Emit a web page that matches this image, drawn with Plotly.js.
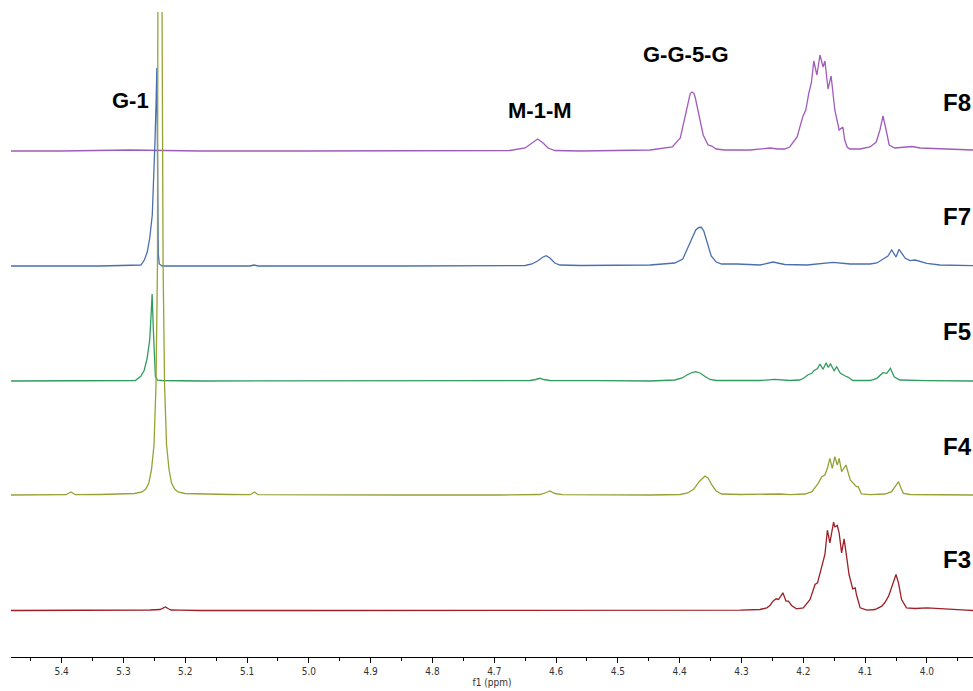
<!DOCTYPE html>
<html>
<head>
<meta charset="utf-8">
<script src="https://cdn.plot.ly/plotly-3.0.1.min.js"></script>
<style>html,body{margin:0;padding:0;background:#fff}#chart{width:973px;height:691px}</style>
</head>
<body>
<div id="chart"></div>
<script>
// ---- data: [ppm, intensity above own baseline] ----
const F8 = [[5.482,0],[5.403,0],[5.289,1],[5.176,0],[5.014,0],[4.853,0],[4.723,0],[4.675,0.5],[4.650,3],[4.639,8],[4.630,12],[4.621,8],[4.613,3],[4.602,0.5],[4.561,0],[4.448,1],[4.412,4],[4.399,13],[4.391,36],[4.385,54],[4.383,57.5],[4.380,59],[4.377,57.5],[4.375,54],[4.369,36],[4.362,16],[4.354,6],[4.348,5],[4.341,2],[4.327,1],[4.286,1],[4.262,3],[4.254,3],[4.241,2],[4.230,2],[4.222,4],[4.210,14],[4.201,34],[4.196,41],[4.191,58],[4.187,68],[4.183,90],[4.178,76],[4.173,96],[4.168,84],[4.165,90],[4.160,62],[4.155,75],[4.149,41],[4.142,21],[4.139,23],[4.136,24],[4.133,11],[4.129,4],[4.125,2],[4.108,2],[4.092,4],[4.082,9],[4.076,21],[4.071,35],[4.066,21],[4.061,6],[4.052,3],[4.035,4],[4.024,4.5],[4.011,3],[3.979,2],[3.925,1]];

const F7 = [[5.482,0],[5.338,0],[5.2719,1],[5.2662,6],[5.2615,14],[5.2575,28],[5.2534,51],[5.2507,87],[5.2489,127],[5.2471,167],[5.2460,198],[5.2454,147],[5.2449,68],[5.2437,12],[5.2420,2],[5.2373,0],[5.225,0],[5.095,0],[5.089,1],[5.082,0],[4.853,0],[4.650,0.5],[4.639,2],[4.630,5],[4.621,9],[4.616,10.3],[4.610,8],[4.602,3],[4.594,1],[4.561,0.5],[4.448,1],[4.408,3],[4.395,7],[4.387,18],[4.380,28],[4.374,36],[4.369,38.5],[4.365,38.7],[4.361,35],[4.356,24],[4.349,10],[4.341,4],[4.332,2],[4.307,2],[4.270,1],[4.249,4],[4.230,1.5],[4.194,1],[4.152,3.7],[4.124,2],[4.092,2],[4.081,3],[4.071,7],[4.063,10],[4.057,16],[4.050,9],[4.045,16.7],[4.035,7.7],[4.027,5.3],[4.019,6],[4.000,2.7],[3.979,1],[3.925,0.3]];

const F5 = [[5.482,0],[5.338,0],[5.2808,0.5],[5.2720,4.8],[5.2664,10.8],[5.2617,22.9],[5.2576,40.9],[5.2554,65],[5.2536,87],[5.2518,53],[5.2502,24.9],[5.2484,4.8],[5.2449,0.8],[5.238,0.5],[5.176,0],[5.014,0],[4.691,0],[4.642,0.5],[4.633,1.5],[4.626,2.7],[4.620,1.5],[4.610,0.5],[4.529,0.3],[4.448,0],[4.408,1],[4.396,3],[4.387,6.5],[4.380,8.5],[4.374,9.3],[4.367,8],[4.359,4.5],[4.351,1.5],[4.341,0.5],[4.302,0.3],[4.270,0.5],[4.246,1.7],[4.222,0.5],[4.206,1],[4.199,3],[4.193,6],[4.186,7.7],[4.183,10.3],[4.177,12.5],[4.173,17],[4.168,11.7],[4.163,18.3],[4.160,13.7],[4.156,17],[4.150,10.3],[4.146,14.3],[4.140,7.7],[4.132,5],[4.127,3.7],[4.120,0.5],[4.092,0.5],[4.081,2.7],[4.071,8.3],[4.065,7.7],[4.059,12.7],[4.053,4.3],[4.044,1],[4.000,0.3],[3.925,0]];

const F4 = [[5.482,0],[5.403,0],[5.393,0.3],[5.385,3],[5.378,0.3],[5.338,0.5],[5.298,1],[5.282,1.5],[5.270,3],[5.264,6],[5.259,12],[5.2547,25],[5.2506,50],[5.2474,110],[5.2450,230],[5.2432,500],[5.2421,1000],[5.2405,2000],[5.2388,1000],[5.2377,500],[5.2359,230],[5.2335,110],[5.2303,50],[5.2262,25],[5.2222,12],[5.2173,6],[5.2118,3],[5.2005,1.5],[5.176,1],[5.128,0.5],[5.095,0.3],[5.088,3],[5.082,0.3],[5.014,0],[4.853,0],[4.691,0],[4.626,0.5],[4.616,2.5],[4.610,4],[4.602,1.5],[4.590,0.3],[4.448,0],[4.399,0.5],[4.387,2],[4.377,6],[4.369,13],[4.362,18],[4.359,19],[4.354,17],[4.348,10],[4.341,4],[4.332,1],[4.302,0.5],[4.238,1],[4.222,0.3],[4.197,1],[4.186,3.3],[4.181,7],[4.176,11.7],[4.170,18.3],[4.165,20],[4.161,26.7],[4.157,36.7],[4.153,26.7],[4.149,38.3],[4.145,30],[4.142,36.7],[4.138,23.3],[4.131,30],[4.124,15],[4.119,11.7],[4.114,8.3],[4.111,8.3],[4.106,1],[4.092,0.3],[4.068,1],[4.057,3.3],[4.052,8],[4.046,13.3],[4.042,7],[4.038,1.7],[4.027,0.5],[3.995,0.3],[3.925,0]];

const F3 = [[5.482,0],[5.338,0],[5.257,0.5],[5.241,1],[5.236,2],[5.232,3.5],[5.228,2],[5.223,0.5],[5.209,0.3],[5.176,0],[5.014,0],[4.691,0],[4.367,0],[4.302,0.3],[4.270,1],[4.259,2.7],[4.254,5],[4.249,9.3],[4.244,11.7],[4.240,11],[4.233,17.7],[4.228,9.3],[4.224,9.3],[4.219,5],[4.211,1.7],[4.200,2.7],[4.189,11],[4.181,26],[4.177,27.7],[4.170,44.3],[4.165,56],[4.161,80.3],[4.157,67.7],[4.151,88.3],[4.149,83.7],[4.145,85],[4.142,77.7],[4.138,57.7],[4.134,71.7],[4.130,54.3],[4.126,36],[4.120,21.7],[4.116,22.7],[4.114,16],[4.108,2.7],[4.097,0.3],[4.084,1],[4.073,4.3],[4.068,8],[4.062,14.3],[4.055,27.7],[4.050,36],[4.046,27.7],[4.041,11],[4.033,2.7],[4.019,2],[4.000,2.7],[3.979,1.7],[3.936,0.3],[3.925,0]];

const seriesNames = ['F8','F7','F5','F4','F3'];
const peakLabels = ['G-1','M-1-M','G-G-5-G'];

// ---- styling / stacking (not data) ----
const spectra = [F8, F7, F5, F4, F3];
const offsets = [506, 391, 276, 162, 46.5];
const colors = ['#a05cbc', '#4b6fae', '#2f9d5e', '#96a233', '#9e2026'];

const traces = spectra.map((s, i) => ({
  type: 'scatter', mode: 'lines', name: seriesNames[i],
  x: s.map(p => p[0]),
  y: s.map(p => p[1] + offsets[i]),
  line: {color: colors[i], width: 1.3},
  hoverinfo: 'skip'
}));

const px = v => (v - 11) / 962;
const py = v => (657 - v) / 645;
const bold = {family: 'Liberation Sans, Arial, sans-serif', size: 22, color: '#000', weight: 'bold'};
const fBold = {family: 'Liberation Sans, Arial, sans-serif', size: 24, color: '#000', weight: 'bold'};

const labelPos = [[130, 100], [540, 110], [686, 55]];
const fPos = [103, 216, 331, 446, 559];

const annotations = [];
peakLabels.forEach((t, i) => annotations.push({
  xref: 'paper', yref: 'paper', x: px(labelPos[i][0]), y: py(labelPos[i][1]),
  xanchor: 'center', yanchor: 'middle', showarrow: false,
  text: '<b>' + t + '</b>', font: bold
}));
seriesNames.forEach((t, i) => annotations.push({
  xref: 'paper', yref: 'paper', x: px(957), y: py(fPos[i]),
  xanchor: 'center', yanchor: 'middle', showarrow: false,
  text: '<b>' + t + '</b>', font: fBold
}));

const layout = {
  width: 973, height: 691,
  margin: {l: 11, r: 0, t: 12, b: 34},
  paper_bgcolor: '#fff', plot_bgcolor: '#fff',
  showlegend: false,
  xaxis: {
    range: [5.482, 3.9254],
    tick0: 0, dtick: 0.1, tickformat: '.1f',
    ticks: 'outside', ticklen: 5, tickcolor: '#000', tickwidth: 1,
    minor: {dtick: 0.05, ticks: 'outside', ticklen: 3, tickcolor: '#000'},
    showline: true, linecolor: '#000', linewidth: 1,
    showgrid: false, zeroline: false,
    tickfont: {family: 'DejaVu Sans Condensed, DejaVu Sans, sans-serif', size: 10, color: '#333'},
    title: {text: 'f1 (ppm)', standoff: 2, font: {family: 'DejaVu Sans Condensed, DejaVu Sans, sans-serif', size: 10, color: '#333'}}
  },
  yaxis: {range: [0, 645], visible: false, showgrid: false, zeroline: false, fixedrange: true},
  annotations: annotations
};

Plotly.newPlot('chart', traces, layout, {staticPlot: true, displayModeBar: false});
</script>
</body>
</html>
